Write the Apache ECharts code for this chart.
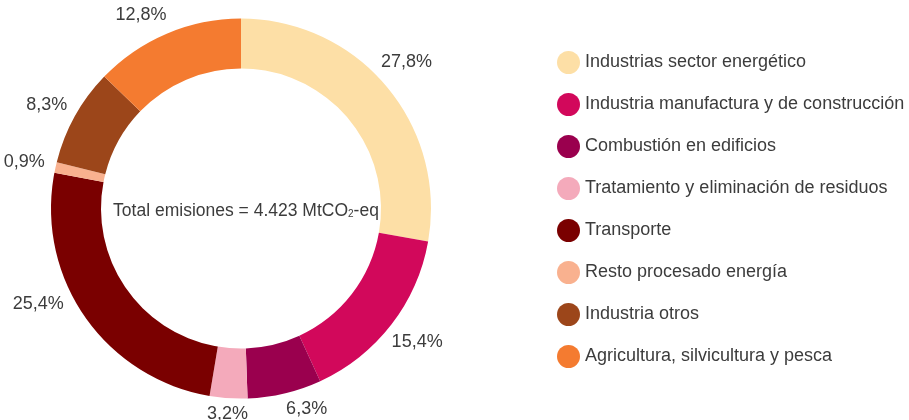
<!DOCTYPE html>
<html>
<head>
<meta charset="utf-8">
<script src="https://cdn.jsdelivr.net/npm/echarts@6/dist/echarts.min.js"></script>
<style>
  html, body { margin: 0; padding: 0; background: #fff; }
  #chart { width: 909px; height: 420px; }
</style>
</head>
<body>
<div id="chart"></div>
<script>
// categorías y valores (% de emisiones)
const categorias = [
    'Industrias sector energético',
    'Industria manufactura y de construcción',
    'Combustión en edificios',
    'Tratamiento y eliminación de residuos',
    'Transporte',
    'Resto procesado energía',
    'Industria otros',
    'Agricultura, silvicultura y pesca'
];
const valores = [27.8, 15.4, 6.3, 3.2, 25.4, 0.9, 8.3, 12.8];
const colores = ['#FDDFA6', '#D2085B', '#9A004E', '#F4AABB', '#7A0000', '#F9B18F', '#9C461A', '#F47B30'];
// ajuste fino de la posición de cada etiqueta
const desplazamientos = [[-3, -5], [2, -1], [15, -14], [1, -14], [-22, -30], [-2, 1], [-2, 3], [-14, 9]];

const chart = echarts.init(document.getElementById('chart'));

const fuente = "'Liberation Sans', Arial, sans-serif";
const centro = [241, 208.5];

const datos = categorias.map((nombre, i) => ({
    name: nombre,
    value: valores[i],
    itemStyle: { color: colores[i] }
}));

const datosEtiquetas = categorias.map((nombre, i) => ({
    name: nombre,
    value: valores[i],
    label: { offset: desplazamientos[i] }
}));

chart.setOption({
    animation: false,
    title: {
        text: '{a|Total emisiones = 4.423 MtCO}{s|2}{a|-eq}',
        left: centro[0],
        top: centro[1] - 2,
        textAlign: 'center',
        textVerticalAlign: 'middle',
        textStyle: {
            fontWeight: 'normal',
            rich: {
                a: { fontFamily: fuente, fontSize: 17.5, fontWeight: 'normal', color: '#3c3c3c' },
                s: { fontFamily: fuente, fontSize: 10, fontWeight: 'normal', color: '#3c3c3c', padding: [6, 0, 0, 0] }
            }
        }
    },
    legend: {
        orient: 'vertical',
        left: 552,
        top: 46,
        icon: 'circle',
        itemWidth: 23,
        itemHeight: 23,
        itemGap: 19,
        selectedMode: false,
        data: categorias,
        textStyle: { fontFamily: fuente, fontSize: 18, color: '#3c3c3c' }
    },
    series: [
        {
            type: 'pie',
            center: centro,
            radius: [140, 190],
            startAngle: 90,
            clockwise: true,
            silent: true,
            label: { show: false },
            labelLine: { show: false },
            data: datos
        },
        {
            // anillo invisible para colocar los porcentajes
            type: 'pie',
            center: centro,
            radius: [190, 244],
            startAngle: 90,
            clockwise: true,
            silent: true,
            itemStyle: { color: 'rgba(0,0,0,0)' },
            label: {
                show: true,
                position: 'inside',
                fontFamily: fuente,
                fontSize: 18,
                color: '#3c3c3c',
                formatter: p => p.value.toFixed(1).replace('.', ',') + '%'
            },
            labelLine: { show: false },
            data: datosEtiquetas
        }
    ]
});

window.addEventListener('resize', function() {
    chart.resize();
});
</script>
</body>
</html>
